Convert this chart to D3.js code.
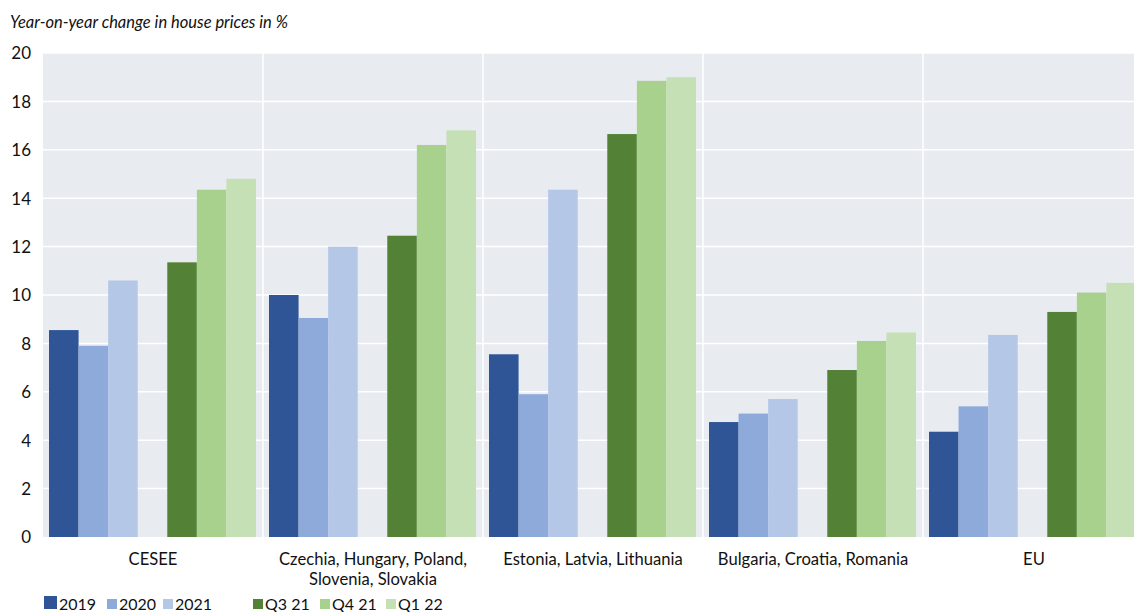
<!DOCTYPE html>
<html lang="en">
<head>
<meta charset="utf-8">
<title>house prices</title>
<script src="https://cdn.jsdelivr.net/npm/d3@7"></script>
<style>
  body { margin: 0; background: #fff; font-family: "Lato", "Open Sans", sans-serif; }
  .tick text { font-size: 17px; fill: #111; font-family: "Lato", sans-serif; }
  .cat { font-size: 16.6px; fill: #111; }
  .legend text { font-size: 16px; fill: #111; }
</style>
</head>
<body>
<script>
var categories = ["CESEE", "Czechia, Hungary, Poland,|Slovenia, Slovakia", "Estonia, Latvia, Lithuania",
                  "Bulgaria, Croatia, Romania", "EU"];
var seriesNames = ["2019", "2020", "2021", "", "Q3 21", "Q4 21", "Q1 22"];
var s2019 = [8.55, 10.0, 7.55, 4.75, 4.35];
var s2020 = [7.9, 9.05, 5.9, 5.1, 5.4];
var s2021 = [10.6, 12.0, 14.35, 5.7, 8.35];
var q321  = [11.35, 12.45, 16.65, 6.9, 9.3];
var q421  = [14.35, 16.2, 18.85, 8.1, 10.1];
var q122  = [14.8, 16.8, 19.0, 8.45, 10.5];
var yTicks = [0, 2, 4, 6, 8, 10, 12, 14, 16, 18, 20];

var colors = ["#2f5597", "#8eaadb", "#b4c7e7", "none", "#538135", "#a9d18e", "#c5e0b4"];
var seriesData = [s2019, s2020, s2021, null, q321, q421, q122];

var W = 1134, H = 612;
var plotLeft = 43, plotRight = 1143, plotTop = 53, plotBottom = 537;

var svg = d3.select("body").append("svg")
    .attr("width", W).attr("height", H);

var x0 = d3.scaleBand().domain(d3.range(categories.length)).range([plotLeft, plotRight]);
var x1 = d3.scaleBand().domain(d3.range(seriesNames.length))
    .range([6, x0.bandwidth() - 7]);
var y = d3.scaleLinear().domain([0, 20]).range([plotBottom, plotTop]);

// plot background
svg.append("rect")
    .attr("x", plotLeft).attr("y", plotTop)
    .attr("width", plotRight - plotLeft).attr("height", plotBottom - plotTop)
    .attr("fill", "#e8ebf0");

// horizontal gridlines
svg.append("g").selectAll("line")
    .data(yTicks.slice(1))
    .enter().append("line")
    .attr("x1", plotLeft).attr("x2", plotRight)
    .attr("y1", function(d) { return y(d); })
    .attr("y2", function(d) { return y(d); })
    .attr("stroke", "#fff").attr("stroke-width", 1.5);

// vertical separators between groups
svg.append("g").selectAll("line")
    .data(d3.range(1, categories.length))
    .enter().append("line")
    .attr("x1", function(d) { return x0(d); })
    .attr("x2", function(d) { return x0(d); })
    .attr("y1", plotTop).attr("y2", plotBottom)
    .attr("stroke", "#fff").attr("stroke-width", 1.5);

// bars
seriesData.forEach(function(vals, si) {
  if (!vals) return;
  svg.append("g").selectAll("rect")
    .data(vals)
    .enter().append("rect")
    .attr("x", function(d, i) { return x0(i) + x1(si); })
    .attr("width", x1.bandwidth())
    .attr("y", function(d) { return y(d); })
    .attr("height", function(d) { return y(0) - y(d); })
    .attr("fill", colors[si]);
});

// y axis
var yAxis = svg.append("g")
    .attr("transform", "translate(" + 31 + ",0)")
    .call(d3.axisLeft(y).tickValues(yTicks).tickSize(0).tickPadding(0));
yAxis.select(".domain").remove();
yAxis.selectAll("text").attr("dy", "0.35em");

// category labels
categories.forEach(function(c, i) {
  var lines = c.split("|");
  var cx = x0(i) + x0.bandwidth() / 2;
  if (i === categories.length - 1) cx = 1034;
  var t = svg.append("text").attr("class", "cat")
    .attr("text-anchor", "middle")
    .attr("x", cx)
    .attr("y", 565);
  lines.forEach(function(l, k) {
    t.append("tspan").attr("x", cx)
      .attr("dy", k === 0 ? 0 : 20).text(l);
  });
});

// title
svg.append("text")
    .attr("x", 10).attr("y", 28)
    .attr("font-size", "16.5px").attr("font-style", "italic")
    .attr("fill", "#111")
    .text("Year-on-year change in house prices in %");

// legend
var legX = [44, 107, 163, 0, 253, 320, 386];
var legend = svg.append("g").attr("class", "legend");
seriesNames.forEach(function(n, i) {
  if (!n) return;
  var sz = i === 0 ? 13 : 10;
  legend.append("rect")
    .attr("x", legX[i]).attr("y", 609 - sz)
    .attr("width", sz).attr("height", sz)
    .attr("fill", colors[i]);
  legend.append("text")
    .attr("x", legX[i] + sz + 2).attr("y", 610)
    .text(n);
});
</script>
</body>
</html>
